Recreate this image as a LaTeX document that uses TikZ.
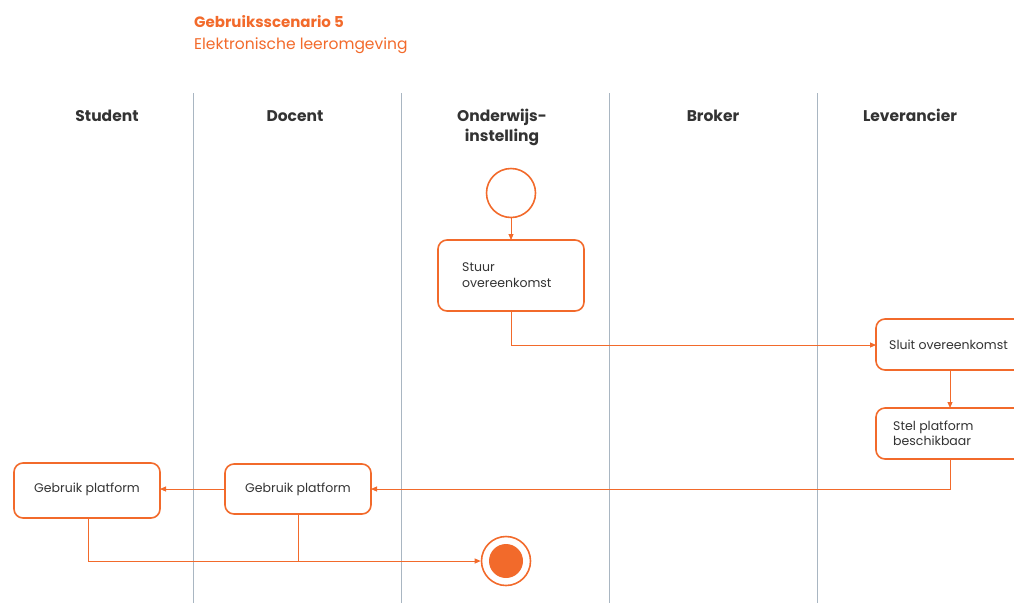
\documentclass[tikz,border=0pt]{standalone}
\usepackage{fontspec}
\setmainfont{Poppins}
\usetikzlibrary{arrows.meta}
\definecolor{org}{HTML}{F26A2B}
\definecolor{lane}{HTML}{A9B6C2}
\definecolor{txt}{HTML}{333333}
\tikzset{
  act/.style={draw=org, line width=1.6pt, rounded corners=9pt, fill=white},
  lbl/.style={text=txt, font=\fontsize{12.5}{15.5}\selectfont, align=left, inner sep=0pt, anchor=west},
  hdr/.style={text=txt, font=\fontsize{15.5}{19.5}\selectfont\bfseries, align=center, anchor=base},
  conn/.style={draw=org, line width=0.9pt},
  arr/.style={conn, -{Triangle[length=6pt,width=5pt]}},
  lanel/.style={draw=lane, line width=0.8pt}
}
\begin{document}
\begin{tikzpicture}[x=1pt,y=-1pt]
\useasboundingbox (0,0) rectangle (1014,603);
\clip (0,0) rectangle (1014,603);
% title
\node[anchor=base west, text=org, font=\fontsize{15}{18}\selectfont\bfseries, inner sep=0pt] (t1) at (194,27.5) {Gebruiksscenario 5};
\node[anchor=base west, text=org, font=\fontsize{15.5}{18}\selectfont, inner sep=0pt] (t2) at (194,49.5) {Elektronische leeromgeving};
% lanes
\foreach \x in {193,401,609,817} \draw[lanel] (\x,93) -- (\x,603);
% headers
\node[hdr] (hs) at (107,121.5) {Student};
\node[hdr] (hd) at (295,121.5) {Docent};
\node[hdr] (ho) at (502,141) {Onderwijs-\\instelling};
\node[hdr] (hb) at (713,121.5) {Broker};
\node[hdr] (hl) at (910,121.5) {Leverancier};
% start
\node[circle, draw=org, line width=1.6pt, minimum size=49pt, inner sep=0pt] (start) at (511,193) {};
% boxes
\draw[act] (438,240) rectangle (584,311);
\node[lbl] (stuur) at (462,275) {Stuur\\overeenkomst};
\coordinate (stuurT) at (511,240);
\coordinate (stuurB) at (511,311);
\draw[act] (876,319) rectangle (1040,370);
\node[lbl] (sluit) at (889,344.5) {Sluit overeenkomst};
\coordinate (sluitL) at (876,345);
\coordinate (sluitB) at (950,370);
\draw[act] (876,408) rectangle (1040,459);
\node[lbl] (stel) at (893,433.5) {Stel platform\\beschikbaar};
\coordinate (stelT) at (950,408);
\coordinate (stelB) at (950,459);
\draw[act] (225,464) rectangle (371,514);
\node[lbl, anchor=center] (gd) at (298,489) {Gebruik platform};
\coordinate (gdR) at (371,489);
\coordinate (gdL) at (225,489);
\coordinate (gdB) at (298,514);
\draw[act] (14,463) rectangle (160,518);
\node[lbl, anchor=center] (gs) at (87,489) {Gebruik platform};
\coordinate (gsR) at (160,489);
\coordinate (gsB) at (88,518);
% end
\node[circle, draw=org, line width=1.6pt, minimum size=49pt, inner sep=0pt] (end) at (506,561) {};
\node[circle, fill=org, minimum size=34pt, inner sep=0pt] (endin) at (506,561) {};
% connectors
\draw[arr] (start.south) -- (stuurT);
\draw[arr] (stuurB) |- (sluitL);
\draw[arr] (sluitB) -- (stelT);
\draw[arr] (stelB) |- (gdR);
\draw[arr] (gdL) -- (gsR);
\draw[arr] (gsB) |- (end.west);
\draw[conn] (gdB) -- (298,561);
\end{tikzpicture}
\end{document}
